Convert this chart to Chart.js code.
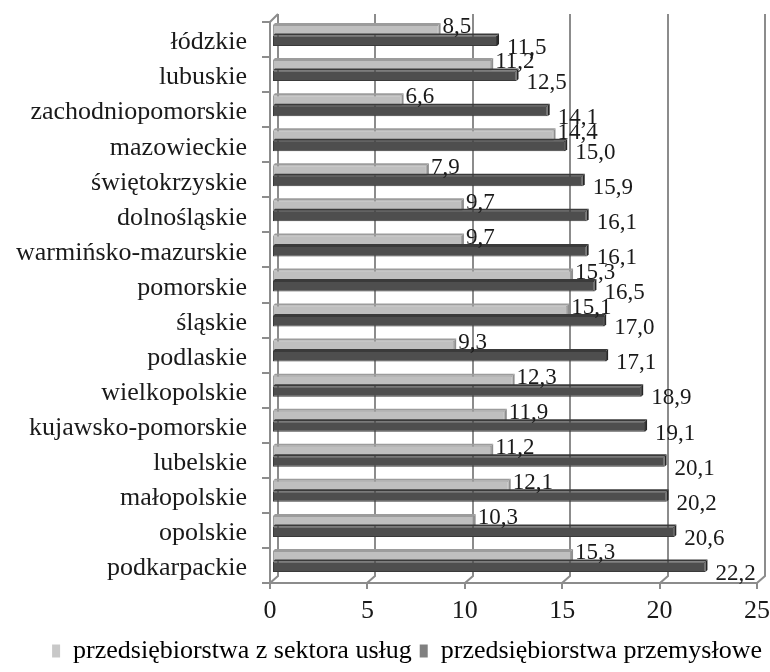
<!DOCTYPE html>
<html lang="pl">
<head>
<meta charset="utf-8">
<title>Województwa – przedsiębiorstwa</title>
<script src="https://cdn.jsdelivr.net/npm/chart.js@4/dist/chart.umd.min.js"></script>
<style>
  html, body { margin: 0; padding: 0; background: #ffffff; }
  canvas { display: block; }
</style>
</head>
<body>
<canvas id="chart" width="770" height="672"></canvas>
<script>
// Województwa, od góry do dołu
const regions = [
  'łódzkie', 'lubuskie', 'zachodniopomorskie', 'mazowieckie', 'świętokrzyskie',
  'dolnośląskie', 'warmińsko-mazurskie', 'pomorskie', 'śląskie', 'podlaskie',
  'wielkopolskie', 'kujawsko-pomorskie', 'lubelskie', 'małopolskie', 'opolskie',
  'podkarpackie'
];

// Przedsiębiorstwa z sektora usług
const services = [8.5, 11.2, 6.6, 14.4, 7.9, 9.7, 9.7, 15.3, 15.1, 9.3, 12.3, 11.9, 11.2, 12.1, 10.3, 15.3];

// Przedsiębiorstwa przemysłowe
const industry = [11.5, 12.5, 14.1, 15.0, 15.9, 16.1, 16.1, 16.5, 17.0, 17.1, 18.9, 19.1, 20.1, 20.2, 20.6, 22.2];

const seriesNames = ['przedsiębiorstwa z sektora usług', 'przedsiębiorstwa przemysłowe'];
const xTicks = [0, 5, 10, 15, 20, 25];

const FONT = '"Liberation Serif", "Times New Roman", serif';
const TEXT = '#1a1a1a';
const GRID = '#8c8c8c';
const DEPTH = 8;          // głębokość tylnej ściany (efekt 3D)
const BAR_SHIFT = { x: 3, y: -4 };
const CAP = 2;            // grubość bocznej ściany słupka

const barStyles = [
  { fill: '#bfbfbf', edge: '#9c9c9c', side: '#8f8f8f', legend: '#c8c8c8' },
  { fill: '#4e4e4e', edge: '#3a3a3a', side: '#262626', legend: '#808080' }
];

const fmt = v => v.toFixed(1).replace('.', ',');

// Ściany wykresu: tylne linie siatki, podłoga i lewa ściana
const frame3d = {
  id: 'frame3d',
  beforeDatasetsDraw(chart) {
    const { ctx, chartArea: a, scales: { x } } = chart;
    ctx.save();
    ctx.strokeStyle = GRID;
    ctx.lineWidth = 2;
    ctx.lineCap = 'butt';
    ctx.beginPath();
    xTicks.forEach(v => {
      const xf = Math.round(x.getPixelForValue(v));
      const xb = xf + DEPTH;
      ctx.moveTo(xb, a.top - DEPTH);
      ctx.lineTo(xb, a.bottom - DEPTH + 1);
      ctx.lineTo(xf, a.bottom);
      ctx.lineTo(xf, a.bottom + 6);
    });
    // podłoga
    ctx.moveTo(a.left, a.bottom);
    ctx.lineTo(x.getPixelForValue(25) + 1, a.bottom);
    // lewa ściana
    ctx.moveTo(a.left, a.bottom);
    ctx.lineTo(a.left, a.top);
    ctx.lineTo(a.left + DEPTH, a.top - DEPTH);
    const step = (a.bottom - a.top) / regions.length;
    for (let i = 0; i <= regions.length; i++) {
      const yy = Math.round(a.top + i * step);
      ctx.moveTo(a.left - 8, yy);
      ctx.lineTo(a.left, yy);
    }
    ctx.stroke();
    ctx.restore();

    // słupki leżą w środku głębokości
    ctx.save();
    ctx.translate(BAR_SHIFT.x, BAR_SHIFT.y);
  },
  afterDatasetsDraw(chart) {
    const { ctx } = chart;
    // boczne i górne ściany słupków
    chart.data.datasets.forEach((ds, di) => {
      const meta = chart.getDatasetMeta(di);
      const st = barStyles[di];
      meta.data.forEach(bar => {
        const { x, y, base, height } = bar.getProps(['x', 'y', 'base', 'height'], true);
        const top = y - height / 2, bot = y + height / 2;
        ctx.fillStyle = st.side;
        ctx.beginPath();
        ctx.moveTo(x, top);
        ctx.lineTo(x + CAP, top - CAP);
        ctx.lineTo(x + CAP, bot - CAP);
        ctx.lineTo(x, bot);
        ctx.closePath();
        ctx.fill();
        ctx.fillStyle = st.edge;
        ctx.beginPath();
        ctx.moveTo(base, top);
        ctx.lineTo(base + CAP, top - CAP);
        ctx.lineTo(x + CAP, top - CAP);
        ctx.lineTo(x, top);
        ctx.closePath();
        ctx.fill();
      });
    });
    ctx.restore();

    // etykiety wartości
    ctx.save();
    ctx.font = '23px ' + FONT;
    ctx.fillStyle = TEXT;
    ctx.textAlign = 'left';
    ctx.textBaseline = 'middle';
    chart.data.datasets.forEach((ds, di) => {
      const meta = chart.getDatasetMeta(di);
      meta.data.forEach((bar, i) => {
        const { x, y } = bar.getProps(['x', 'y'], true);
        const lx = x + BAR_SHIFT.x + (di === 0 ? 4 : 10);
        const ly = y + BAR_SHIFT.y + (di === 0 ? -3 : 7);
        ctx.fillText(fmt(ds.data[i]), lx, ly);
      });
    });
    ctx.restore();
  }
};

new Chart(document.getElementById('chart'), {
  type: 'bar',
  data: {
    labels: regions,
    datasets: [
      {
        label: seriesNames[0],
        data: services,
        backgroundColor: barStyles[0].fill,
        borderColor: barStyles[0].edge,
        borderWidth: 1,
        borderSkipped: false
      },
      {
        label: seriesNames[1],
        data: industry,
        backgroundColor: barStyles[1].fill,
        borderColor: barStyles[1].edge,
        borderWidth: 1,
        borderSkipped: false
      }
    ]
  },
  options: {
    indexAxis: 'y',
    responsive: false,
    animation: false,
    devicePixelRatio: 1,
    datasets: { bar: { categoryPercentage: 0.6, barPercentage: 1.0 } },
    layout: { padding: { top: 22, right: 0, left: 0, bottom: -2 } },
    plugins: {
      tooltip: { enabled: false },
      legend: {
        position: 'bottom',
        align: 'end',
        labels: {
          color: TEXT,
          font: { family: FONT, size: 26 },
          boxWidth: 8,
          boxHeight: 13,
          padding: 8,
          generateLabels: () => seriesNames.map((name, i) => ({
            text: name,
            fillStyle: barStyles[i].legend,
            strokeStyle: barStyles[i].legend,
            lineWidth: 0,
            datasetIndex: i
          }))
        }
      }
    },
    scales: {
      x: {
        min: 0,
        max: 25,
        afterBuildTicks: s => { s.ticks = xTicks.map(v => ({ value: v })); },
        grid: { display: false, drawTicks: false },
        border: { display: false },
        ticks: {
          color: TEXT,
          font: { family: FONT, size: 26 },
          padding: 13,
          maxRotation: 0
        },
        afterFit: s => { s.height = 47; s.paddingLeft = 0; s.paddingRight = 13; }
      },
      y: {
        grid: { display: false, drawTicks: false },
        border: { display: false },
        ticks: {
          color: TEXT,
          font: { family: FONT, size: 26 },
          padding: 23,
          labelOffset: 3,
          autoSkip: false
        },
        afterFit: s => { s.width = 270; s.paddingTop = 0; s.paddingBottom = 0; }
      }
    }
  },
  plugins: [frame3d]
});
</script>
</body>
</html>
